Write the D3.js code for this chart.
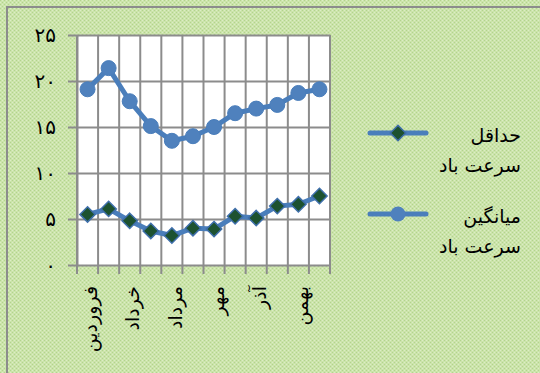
<!DOCTYPE html>
<meta charset="utf-8">
<style>
  body { margin: 0; }
  text { font-family: "DejaVu Sans", sans-serif; fill: #000; }
</style>
<body>
<svg width="540" height="373"></svg>
<script src="https://d3js.org/d3.v7.min.js"></script>
<script>

 // months (Persian calendar) and wind speed values
 var months = ["فروردین", "اردیبهشت", "خرداد", "تیر", "مرداد", "شهریور", "مهر", "آبان", "آذر", "دی", "بهمن", "اسفند"];
 var avgSpeed = [19.1, 21.4, 17.8, 15.1, 13.5, 14.0, 15.0, 16.5, 17.0, 17.4, 18.7, 19.1];
 var minSpeed = [5.5, 6.1, 4.8, 3.7, 3.2, 4.0, 3.9, 5.3, 5.1, 6.4, 6.6, 7.5];
 var yTicks = [0, 5, 10, 15, 20, 25];
 var legendNames = [["حداقل", "سرعت باد"], ["میانگین", "سرعت باد"]];

 var svg = d3.select("svg");

 var faDigits = function(n) {
     return String(n).replace(/[0-9]/g, function(c) { return "۰۱۲۳۴۵۶۷۸۹"[+c]; });
 };

 // textured green background
 var defs = svg.append("defs");
 var pat = defs.append("pattern")
     .attr("id", "bg")
     .attr("width", 4).attr("height", 4)
     .attr("patternUnits", "userSpaceOnUse");
 pat.append("rect").attr("width", 4).attr("height", 4).attr("fill", "#cbe4aa");
 pat.append("rect").attr("x", 0).attr("y", 0).attr("width", 1).attr("height", 1).attr("fill", "#b3d38e");
 pat.append("rect").attr("x", 2).attr("y", 2).attr("width", 1).attr("height", 1).attr("fill", "#b3d38e");
 pat.append("rect").attr("x", 2).attr("y", 0).attr("width", 1).attr("height", 1).attr("fill", "#dcedc6");
 pat.append("rect").attr("x", 0).attr("y", 2).attr("width", 1).attr("height", 1).attr("fill", "#dcedc6");

 svg.append("rect").attr("width", 540).attr("height", 373).attr("fill", "url(#bg)");
 svg.append("rect")
     .attr("x", 7).attr("y", 7).attr("width", 560).attr("height", 400)
     .attr("fill", "none").attr("stroke", "#8c8c8c").attr("stroke-width", 2);

 var plotL = 77, plotR = 330, plotT = 35, plotB = 265;

 var x = d3.scaleBand().domain(months).range([plotL, plotR]);
 var xEdge = d3.scaleLinear().domain([0, months.length]).range([plotL, plotR]);
 var y = d3.scaleLinear().domain([0, 25]).range([plotB, plotT]);

 svg.append("rect")
     .attr("x", plotL).attr("y", plotT)
     .attr("width", plotR - plotL).attr("height", plotB - plotT)
     .attr("fill", "#fff");

 // vertical grid lines + ticks under the axis
 svg.append("g").selectAll("line")
     .data(d3.range(months.length + 1))
     .join("line")
     .attr("x1", function(d) { return xEdge(d); })
     .attr("x2", function(d) { return xEdge(d); })
     .attr("y1", plotT).attr("y2", plotB + 9)
     .attr("stroke", "#8c8c8c").attr("stroke-width", 2);

 // horizontal grid + y axis
 var yAxis = svg.append("g")
     .attr("transform", "translate(" + plotL + ",0)")
     .call(d3.axisLeft(y).tickValues(yTicks).tickSizeInner(9).tickSizeOuter(0)
           .tickPadding(12).tickFormat(faDigits));
 yAxis.select(".domain").attr("stroke", "#8c8c8c").attr("stroke-width", 2);
 yAxis.selectAll(".tick line").attr("x2", plotR - plotL).attr("x1", -9)
     .attr("stroke", "#8c8c8c").attr("stroke-width", 2);
 yAxis.selectAll(".tick text")
     .style("font-size", "20px").style("font-family", "DejaVu Sans").attr("fill", "#000");

 // x labels, every other month, rotated
 svg.append("g").selectAll("text")
     .data(months.filter(function(d, i) { return i % 2 === 0; }))
     .join("text")
     .attr("transform", function(d) {
         return "translate(" + (x(d) + x.bandwidth() / 2 + 3) + "," + (plotB + 21) + ") rotate(-90)";
     })
     .attr("text-anchor", "end")
     .attr("dy", "0.35em")
     .style("font-size", "19px")
     .text(function(d) { return d; });

 var line = d3.line()
     .x(function(d, i) { return x(months[i]) + x.bandwidth() / 2; })
     .y(function(d) { return y(d); });

 var blue = "#4a7ebb";

 svg.append("path").datum(avgSpeed)
     .attr("d", line).attr("fill", "none")
     .attr("stroke", blue).attr("stroke-width", 5).attr("stroke-linejoin", "round");
 svg.append("g").selectAll("circle")
     .data(avgSpeed).join("circle")
     .attr("cx", function(d, i) { return x(months[i]) + x.bandwidth() / 2; })
     .attr("cy", function(d) { return y(d); })
     .attr("r", 7.5)
     .attr("fill", "#4f81bd").attr("stroke", "#4a7ebb");

 svg.append("path").datum(minSpeed)
     .attr("d", line).attr("fill", "none")
     .attr("stroke", blue).attr("stroke-width", 5).attr("stroke-linejoin", "round");
 var diamond = d3.symbol().type(d3.symbolDiamond2).size(150);
 svg.append("g").selectAll("path")
     .data(minSpeed).join("path")
     .attr("transform", function(d, i) {
         return "translate(" + (x(months[i]) + x.bandwidth() / 2) + "," + y(d) + ")";
     })
     .attr("d", diamond)
     .attr("fill", "#1d5230").attr("stroke", "#3f6fab").attr("stroke-width", 1.5);

 // legend
 var legend = svg.append("g");
 var rows = [133, 214];
 legendNames.forEach(function(names, k) {
     var g = legend.append("g").attr("transform", "translate(0," + rows[k] + ")");
     g.append("line").attr("x1", 370).attr("x2", 426)
         .attr("stroke", blue).attr("stroke-width", 5).attr("stroke-linecap", "round");
     if (k === 0) {
         g.append("path").attr("transform", "translate(398,0)").attr("d", diamond)
             .attr("fill", "#1d5230").attr("stroke", "#3f6fab").attr("stroke-width", 1.5);
     } else {
         g.append("circle").attr("cx", 398).attr("r", 7.5).attr("fill", "#4f81bd");
     }
     names.forEach(function(t, j) {
         g.append("text")
             .attr("x", 521).attr("y", 2 + j * 30)
             .attr("dy", "0.35em")
             .attr("text-anchor", "end")
             .style("font-size", "19px")
             .text(t);
     });
 });

</script>
</body>
